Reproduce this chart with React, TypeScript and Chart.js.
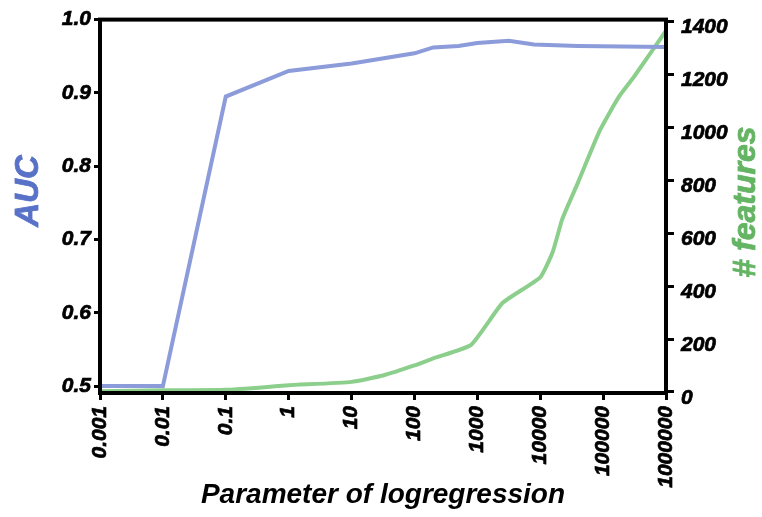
import { useEffect, useRef } from 'react';
import { Chart, registerables } from 'chart.js';

Chart.register(...registerables);

// x positions are log10 of the regression parameter
const xTickExponents = [-3, -2, -1, 0, 1, 2, 3, 4, 5, 6];
const xTickLabels = ['0.001', '0.01', '0.1', '1', '10', '100', '1000', '10000', '100000', '1000000'];

const aucLogC = [-3, -2, -1, 0, 1, 2, 2.3, 2.7, 3, 3.5, 3.9, 4.6, 6];
const aucValues = [0.5, 0.5, 0.895, 0.93, 0.94, 0.954, 0.962, 0.964, 0.968, 0.971, 0.966, 0.964, 0.9626];

const featLogC = [-3, -2, -1, 0, 1, 1.5, 2, 2.3, 2.9, 3.4, 4, 4.2, 4.35, 4.6, 4.95, 5.25, 5.5, 6];
const featValues = [3, 6, 8, 25, 38, 62, 100, 127, 178, 336, 433, 530, 653, 791, 989, 1115, 1194, 1365];

const aucTicks = [0.5, 0.6, 0.7, 0.8, 0.9, 1.0];
const featTicks = [0, 200, 400, 600, 800, 1000, 1200, 1400];

const FONT = 'Liberation Sans';
const AUC_LINE = 'rgb(140,155,218)';
const FEAT_LINE = 'rgb(140,207,140)';
const AUC_TEXT = 'rgb(88,114,200)';
const FEAT_TEXT = 'rgb(100,180,100)';

export default function App() {
  const ref = useRef<HTMLCanvasElement>(null);

  useEffect(() => {
    document.body.style.margin = '0';
    const tickFont = { family: FONT, size: 21, weight: 'bold' as const, style: 'italic' as const };

    const framePlugin = {
      id: 'frameAndTitles',
      afterDatasetsDraw(chart: any) {
        const { ctx, chartArea } = chart;
        ctx.save();
        ctx.strokeStyle = '#000';
        ctx.lineWidth = 4;
        ctx.strokeRect(chartArea.left, chartArea.top, chartArea.right - chartArea.left, chartArea.bottom - chartArea.top);
        ctx.restore();
      },
      afterDraw(chart: any) {
        const { ctx } = chart;
        ctx.save();
        ctx.translate(38, 191);
        ctx.rotate(-Math.PI / 2);
        ctx.font = `italic bold 33px "${FONT}"`;
        ctx.fillStyle = AUC_TEXT;
        ctx.strokeStyle = AUC_TEXT;
        ctx.lineWidth = 0.8;
        ctx.textAlign = 'center';
        ctx.textBaseline = 'alphabetic';
        ctx.fillText('AUC', 0, 0);
        ctx.strokeText('AUC', 0, 0);
        ctx.restore();

        ctx.save();
        ctx.translate(755, 202);
        ctx.rotate(-Math.PI / 2);
        ctx.font = `italic bold 32px "${FONT}"`;
        ctx.fillStyle = FEAT_TEXT;
        ctx.strokeStyle = FEAT_TEXT;
        ctx.lineWidth = 0.8;
        ctx.textAlign = 'center';
        ctx.textBaseline = 'alphabetic';
        ctx.fillText('# features', 0, 0);
        ctx.strokeText('# features', 0, 0);
        ctx.restore();
      },
    };

    const chart = new Chart(ref.current!, {
      type: 'line',
      data: {
        datasets: [
          {
            label: 'AUC',
            data: aucLogC.map((x, i) => ({ x, y: aucValues[i] })),
            yAxisID: 'yAuc',
            borderColor: AUC_LINE,
            borderWidth: 4,
            pointRadius: 0,
            tension: 0,
            fill: false,
          },
          {
            label: '# features',
            data: featLogC.map((x, i) => ({ x, y: featValues[i] })),
            yAxisID: 'yFeat',
            borderColor: FEAT_LINE,
            borderWidth: 4,
            pointRadius: 0,
            tension: 0.15,
            fill: false,
          },
        ],
      },
      options: {
        responsive: false,
        animation: false,
        layout: { padding: { top: 15, left: 0, right: 0, bottom: 0 } },
        plugins: { legend: { display: false }, tooltip: { enabled: false } },
        scales: {
          x: {
            type: 'linear',
            min: -3,
            max: 6,
            afterBuildTicks: (s: any) => {
              s.ticks = xTickExponents.map((v) => ({ value: v }));
            },
            afterFit: (s: any) => {
              s.height = 124;
            },
            ticks: {
              callback: (v: any) => xTickLabels[xTickExponents.indexOf(Number(v))],
              minRotation: 90,
              maxRotation: 90,
              autoSkip: false,
              font: tickFont,
              color: '#000',
              padding: 6,
              textStrokeColor: '#000',
              textStrokeWidth: 0.7,
            },
            grid: { drawOnChartArea: false, drawTicks: true, tickLength: 7, lineWidth: 3, color: '#000' },
            border: { display: false },
            title: {
              display: true,
              text: 'Parameter of logregression',
              font: { family: FONT, size: 28, weight: 'bold', style: 'italic' },
              color: '#000',
              padding: { top: 0, bottom: 5 },
            },
          },
          yAuc: {
            type: 'linear',
            position: 'left',
            min: 0.4906,
            max: 1.0,
            afterBuildTicks: (s: any) => {
              s.ticks = aucTicks.map((v) => ({ value: v }));
            },
            afterFit: (s: any) => {
              s.width = 100;
            },
            ticks: {
              callback: (v: any) => Number(v).toFixed(1),
              font: tickFont,
              color: '#000',
              padding: 3,
              textStrokeColor: '#000',
              textStrokeWidth: 0.7,
            },
            grid: { drawOnChartArea: false, drawTicks: true, tickLength: 6, lineWidth: 3, color: '#000' },
            border: { display: false },
          },
          yFeat: {
            type: 'linear',
            position: 'right',
            min: -4,
            max: 1407,
            afterBuildTicks: (s: any) => {
              s.ticks = featTicks.map((v) => ({ value: v }));
            },
            afterFit: (s: any) => {
              s.width = 96;
            },
            ticks: {
              callback: (v: any) => String(v),
              font: tickFont,
              color: '#000',
              padding: 7,
              labelOffset: 6,
              textStrokeColor: '#000',
              textStrokeWidth: 0.7,
            },
            grid: { drawOnChartArea: false, drawTicks: true, tickLength: 8, lineWidth: 3, color: '#000' },
            border: { display: false },
          },
        },
      },
      plugins: [framePlugin],
    } as any);

    return () => chart.destroy();
  }, []);

  return (
    <div style={{ width: 762, height: 517, background: '#fff' }}>
      <canvas ref={ref} width={762} height={517} style={{ display: 'block', width: 762, height: 517 }} />
    </div>
  );
}
